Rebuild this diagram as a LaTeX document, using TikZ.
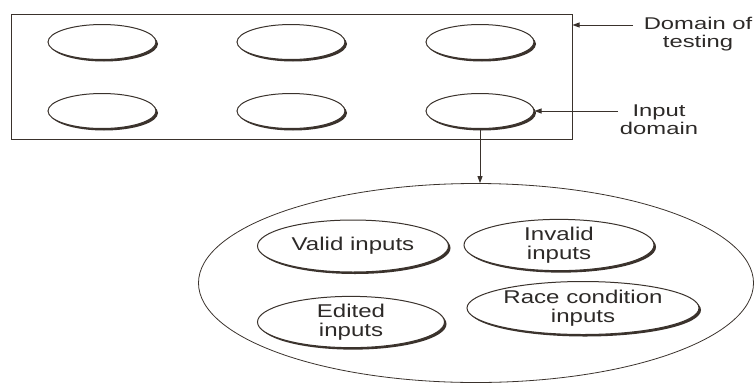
\documentclass[tikz,border=0pt]{standalone}
\usepackage{fontspec}
\newfontfamily\labfont[FakeStretch=1.3]{Liberation Sans}
\newfontfamily\sidefont[FakeStretch=1.4]{Liberation Sans}
\usetikzlibrary{shapes.geometric,arrows.meta,shadows}
\definecolor{ink}{RGB}{58,50,44}
\definecolor{txt}{RGB}{45,42,40}
\begin{document}
\begin{tikzpicture}[x=1pt,y=-1pt,
  every node/.style={inner sep=0pt},
  smallell/.style={ellipse,draw=ink,line width=1pt,fill=white,
    minimum width=108pt,minimum height=35pt,
    drop shadow={shadow xshift=2pt,shadow yshift=-2pt,fill=ink,opacity=1}},
  inell/.style={ellipse,draw=ink,line width=1pt,fill=white,align=center,text=txt,
    font={\labfont\fontsize{18.5}{19}\selectfont},
    drop shadow={shadow xshift=2pt,shadow yshift=-2pt,fill=ink,opacity=1}},
  sidelab/.style={align=center,text=txt,font={\sidefont\fontsize{17}{18}\selectfont}},
  arr/.style={draw=ink,line width=0.9pt,-{Triangle[length=7pt,width=5pt]}}]
\useasboundingbox (0,0) rectangle (754,383);
% domain of testing rectangle
\node[draw=ink,line width=1pt,minimum width=561pt,minimum height=125pt] (dom) at (291.5,76.5) {};
% input domains
\node[smallell] (e1) at (102,42) {};
\node[smallell] (e2) at (291,42) {};
\node[smallell] (e3) at (480,42) {};
\node[smallell] (e4) at (102,111) {};
\node[smallell] (e5) at (291,111) {};
\node[smallell] (e6) at (480,111) {};
% labels
\node[sidelab] (ldom) at (698,34) {Domain of\\testing};
\node[sidelab] (linp) at (659,119.5) {Input\\domain};
\coordinate (a1) at (633,25);
\coordinate (a2) at (618,111);
\draw[arr] (a1) -- (dom.east |- a1);
\draw[arr] (a2) -- (e6.east);
% big ellipse
\node[ellipse,draw=ink,line width=0.8pt,minimum width=555pt,minimum height=199pt] (big) at (476,283) {};
\draw[arr] (e6.south) -- (e6.south |- big.north);
% inner ellipses
\node[inell,minimum width=191pt,minimum height=52pt] (valid) at (353,246) {Valid inputs};
\node[inell,minimum width=190pt,minimum height=50pt] (invalid) at (559,245) {Invalid\\inputs};
\node[inell,minimum width=187pt,minimum height=50pt] (edited) at (351,322) {Edited\\inputs};
\node[inell,minimum width=232pt,minimum height=53pt] (race) at (583,308) {Race condition\\inputs};
\end{tikzpicture}
\end{document}
